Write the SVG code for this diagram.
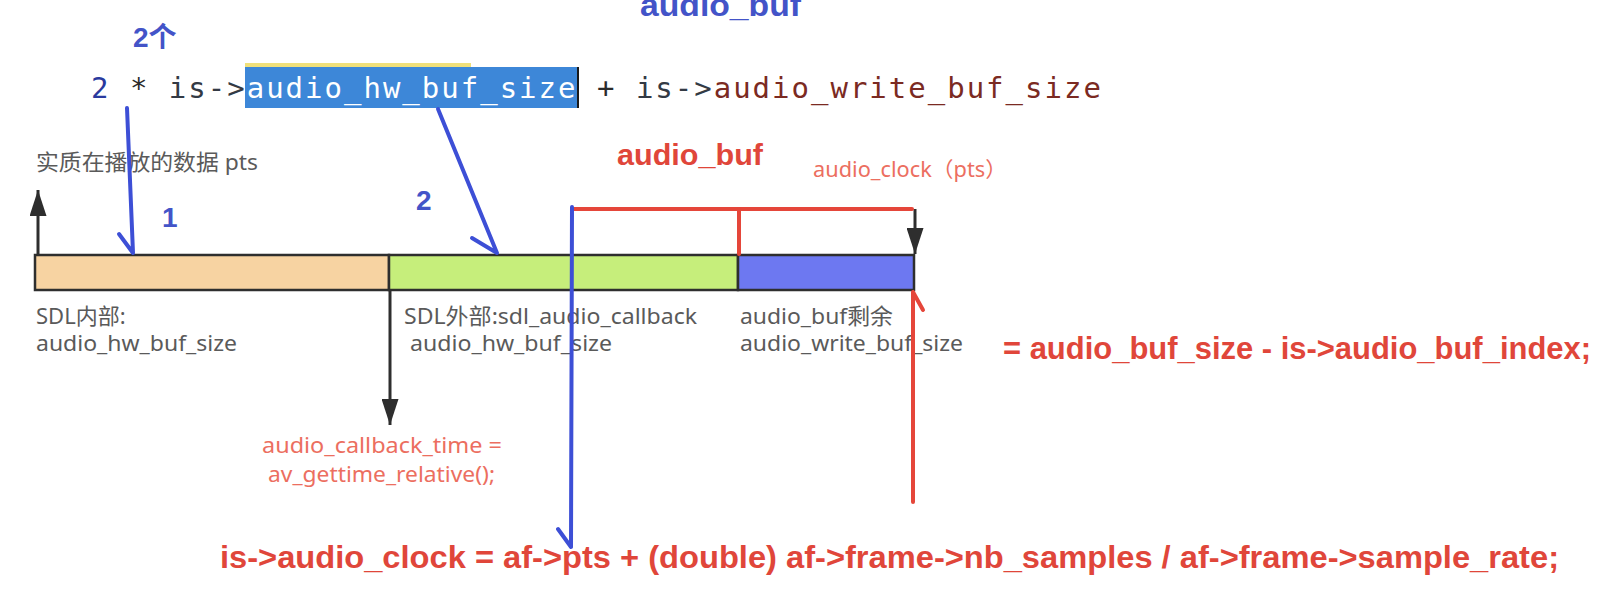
<svg xmlns="http://www.w3.org/2000/svg" width="1612" height="612" viewBox="0 0 1612 612">
<style>
.code{font-family:"DejaVu Sans Mono","Liberation Mono",monospace;font-size:29px;letter-spacing:2px}
.gray{font-family:"Noto Sans","Noto Sans CJK SC",sans-serif;font-size:22px;fill:#5a5a5a}
.redsm{font-family:"Noto Sans","Noto Sans CJK SC",sans-serif;font-size:21px;fill:#ec6e60}
.redb{font-family:"Liberation Sans","Noto Sans CJK SC",sans-serif;font-weight:bold;fill:#e0463a}
.blueb{font-family:"Liberation Sans","Noto Sans CJK SC",sans-serif;font-weight:bold;fill:#4354c8}
.blk{stroke:#2e2e2e;stroke-width:3;fill:none}
.blue{stroke:#3d4fd6;stroke-width:4;fill:none;stroke-linecap:round;stroke-linejoin:round}
.red{stroke:#e5463a;stroke-width:4;fill:none;stroke-linecap:round;stroke-linejoin:round}
</style>
<defs>
<marker id="ah" viewBox="0 0 10 10" refX="10" refY="5" markerWidth="26" markerHeight="17" markerUnits="userSpaceOnUse" orient="auto" preserveAspectRatio="none">
<path d="M0,0 L10,5 L0,10 z" fill="#2e2e2e"/>
</marker>
</defs>
<rect width="1612" height="612" fill="#ffffff"/>

<g id="title-blue">
<text class="blueb" x="640" y="16" font-size="32" textLength="161" lengthAdjust="spacingAndGlyphs">audio_buf</text>
</g>
<g id="label-2ge">
<text class="blueb" x="133" y="47" font-size="28">2个</text>
</g>

<g id="code-line">
<rect x="245" y="63" width="226" height="4" fill="#f0e07a"/>
<rect x="245" y="67" width="333" height="41" fill="#3d87d8"/>
<line x1="578" y1="67" x2="578" y2="108" stroke="#1a1a1a" stroke-width="2"/>
<text class="code" x="91" y="98" fill="#2a3a9e">2</text>
<text class="code" x="129.9" y="98" fill="#2b2b2b">*</text>
<text class="code" x="168.8" y="98" fill="#333a44">is-&gt;</text>
<text class="code" x="246.7" y="98" fill="#ffffff">audio_hw_buf_size</text>
<text class="code" x="597" y="98" fill="#2b2b2b">+</text>
<text class="code" x="635.9" y="98" fill="#333a44">is-&gt;</text>
<text class="code" x="713.7" y="98" fill="#7b2a22">audio_write_buf_size</text>
</g>

<g id="label-pts">
<text class="gray" x="36" y="170" textLength="222" lengthAdjust="spacingAndGlyphs">实质在播放的数据 pts</text>
</g>

<g id="label-1"><text class="blueb" x="162" y="227" font-size="28">1</text></g>
<g id="label-2"><text class="blueb" x="416" y="210" font-size="28">2</text></g>

<g id="label-audio-buf-red">
<text class="redb" x="617" y="165" font-size="30" textLength="146" lengthAdjust="spacingAndGlyphs">audio_buf</text>
</g>
<g id="label-audio-clock">
<text class="redsm" x="813" y="177" textLength="194" lengthAdjust="spacingAndGlyphs">audio_clock（pts）</text>
</g>

<g id="seg-sdl-internal">
<rect x="35" y="255" width="354" height="35" fill="#f7d3a2" stroke="#2e2e2e" stroke-width="2.5"/>
<text class="gray" x="36" y="324">SDL内部:</text>
<text class="gray" x="36" y="351" textLength="201" lengthAdjust="spacingAndGlyphs">audio_hw_buf_size</text>
</g>
<g id="seg-sdl-external">
<rect x="389" y="255" width="349" height="35" fill="#c6ee7b" stroke="#2e2e2e" stroke-width="2.5"/>
<text class="gray" x="404" y="324" textLength="293" lengthAdjust="spacingAndGlyphs">SDL外部:sdl_audio_callback</text>
<text class="gray" x="410" y="351" textLength="202" lengthAdjust="spacingAndGlyphs">audio_hw_buf_size</text>
</g>
<g id="seg-remaining">
<rect x="738" y="255" width="176" height="35" fill="#6d78f1" stroke="#2e2e2e" stroke-width="2.5"/>
<text class="gray" x="740" y="324" textLength="153" lengthAdjust="spacingAndGlyphs">audio_buf剩余</text>
<text class="gray" x="740" y="351" textLength="223" lengthAdjust="spacingAndGlyphs">audio_write_buf_size</text>
</g>

<g id="formula-remaining">
<text class="redb" x="1003" y="359" font-size="31" textLength="588" lengthAdjust="spacingAndGlyphs">= audio_buf_size - is-&gt;audio_buf_index;</text>
</g>

<g id="label-callback-time">
<text class="redsm" x="262" y="453" textLength="240" lengthAdjust="spacingAndGlyphs">audio_callback_time =</text>
<text class="redsm" x="268" y="482" textLength="227" lengthAdjust="spacingAndGlyphs">av_gettime_relative();</text>
</g>

<g id="formula-clock">
<text class="redb" x="220" y="568" font-size="32" textLength="1339" lengthAdjust="spacingAndGlyphs">is-&gt;audio_clock = af-&gt;pts + (double) af-&gt;frame-&gt;nb_samples / af-&gt;frame-&gt;sample_rate;</text>
</g>

<g id="connectors">
<line class="blk" x1="38" y1="254" x2="38" y2="190" marker-end="url(#ah)"/>
<line class="blk" x1="390" y1="290" x2="390" y2="425" marker-end="url(#ah)"/>
<line class="blk" x1="915" y1="209" x2="915" y2="254" marker-end="url(#ah)"/>
<path class="red" d="M573,209 L912,209"/>
<path class="red" d="M739,209 L739,254"/>
<path class="red" d="M913,502 L913,292 M923,310 L913,292"/>
<path class="blue" d="M127,108 L133,253 M119,234 L133,253"/>
<path class="blue" d="M438,109 L497,253 M472,238 L497,253"/>
<path class="blue" d="M572,207 L571,547 M558,529 L571,547"/>
</g>
</svg>
